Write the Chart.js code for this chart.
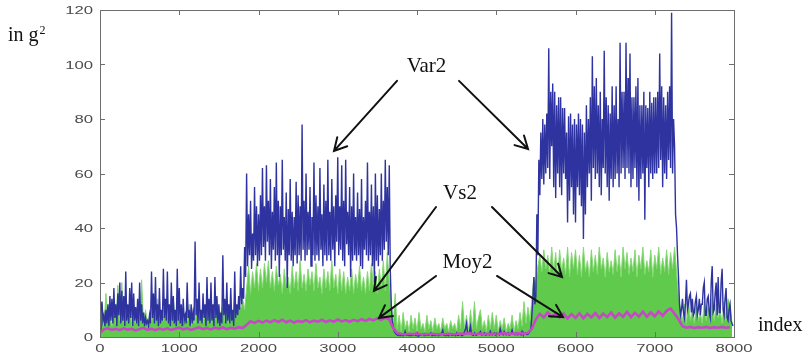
<!DOCTYPE html>
<html><head><meta charset="utf-8">
<script src="https://cdn.jsdelivr.net/npm/chart.js@4/dist/chart.umd.min.js"></script>
<style>html,body{margin:0;padding:0;background:#fff;}canvas{display:block;}</style>
</head><body>
<canvas id="c" width="808" height="359"></canvas>
<script>
// ---- data ----
const STEP_VAR = 12.5;  // sample spacing (index units) of Var2
const STEP_VS = 25;     // sample spacing of Vs2
const STEP_MOY = 50;    // sample spacing of Moy2

const var2 = [
  // 0 - 487.5
  2,10,13,6,8,4,10,5,12,4, 15,6,14,5,18,7,12,4,16,8, 20,5,17,6,15,4,24,6,12,5, 18,7,20,4,16,6,11,5,14,4,
  // 500 - 987.5
  20,6,12,5,9,4,7,5,6,4, 8,5,24,7,16,5,22,6,12,4, 18,5,10,6,25,7,14,6,24,5, 12,4,20,6,15,5,10,4,25,6,
  // 1000 - 1487.5
  18,5,12,4,14,6,8,5,20,7, 10,4,12,5,9,6,35,8,14,5, 20,6,10,5,16,7,12,4,22,6, 14,5,20,6,12,4,22,7,15,5,
  // 1500 - 1987.5
  12,4,9,5,30,8,14,5,20,6, 12,5,18,6,10,4,24,7,12,8, 15,10,26,12,18,14,33,22,60,26, 45,30,50,25,38,28,55,30,48,26,
  // 2000 - 2487.5
  45,28,52,30,62,33,48,28,63,35, 50,30,58,25,46,32,55,28,64,30, 50,22,48,30,65,32,44,28,53,18, 47,30,58,28,46,26,44,30,57,27,
  // 2500 - 2987.5
  52,30,48,28,78,32,50,28,60,30, 46,32,55,26,44,30,64,28,52,30, 48,28,62,32,45,26,56,30,50,28, 65,30,46,28,58,32,48,26,52,35,
  // 3000 - 3487.5
  66,30,48,32,63,28,50,26,65,34, 46,30,55,22,48,28,60,30,44,28, 53,30,47,26,58,25,44,32,50,30, 64,28,46,30,56,26,48,20,60,28,
  // 3500 - 3987.5
  52,26,47,30,60,28,50,32,65,35, 55,30,63,25,12,6,4,2,1.5,1, 0.8,0.6,1.2,0.5,0.8,0.6,0.5,0.7,2,0.6, 0.6,1,0.5,0.7,0.5,0.8,0.6,1,0.8,0.5,
  // 4000 - 4487.5
  1.5,0.6,0.5,0.7,0.7,1,1.2,0.5,0.5,0.8, 0.8,0.6,0.6,1,1.5,0.5,0.5,0.7,0.7,0.5, 1,0.6,0.5,0.8,0.8,1.5,2.5,0.7,0.6,0.5, 0.8,0.6,0.5,1,1.2,0.6,0.6,0.8,0.8,0.5,
  // 4500 - 4987.5
  1.5,0.6,0.6,1,1,0.5,0.5,1.2,2,3, 5,1.5,1.5,2,4,1,0.8,0.6,1.5,0.8, 0.6,1,1,1.5,2,0.8,0.8,1.2,1.5,0.7, 0.7,1,1.2,0.8,2,1,0.8,1.2,1.5,0.7,
  // 5000 - 5487.5
  0.7,1,1.2,0.8,3,1.5,1,0.8,2,1.2, 0.8,1,1.5,0.7,0.9,1.2,2.5,1,1,0.8, 1.5,0.9,0.8,1.2,1.2,0.8,2,1,0.9,1.3, 1.5,0.9,1,1.4,2,3,8,14,22,12,
  // 5500 - 5987.5
  15,45,30,65,52,75,58,80,56,78, 60,82,62,106,58,90,70,93,55,90, 51,85,60,88,55,88,52,84,60,84, 58,75,42,81,50,82,55,78,45,80,
  // 6000 - 6487.5
  42,78,55,82,52,80,48,78,36,75, 45,85,55,80,60,88,50,103,62,92, 58,95,60,85,55,90,52,80,62,105, 60,88,55,85,50,82,58,92,55,85,
  // 6500 - 6987.5
  58,92,60,80,55,108,60,90,62,90, 58,108,62,95,60,104,55,88,58,88, 62,92,55,95,50,85,58,85,60,90, 43,85,62,84,55,90,60,86,58,88,
  // 7000 - 7487.5
  60,88,60,90,62,104,65,92,55,88, 60,85,58,90,65,92,62,119,60,80, 70,45,40,30,22,12,8,10,14,9, 7,12,21,10,12,15,16,9,14,8,
  // 7500 - 7987.5
  9,13,15,8,10,14,8,12,12,18, 20,8,8,14,15,9,7,20,26,9, 10,16,20,8,22,9,9,20,25,10, 8,14,18,7,6,10,12,6,5,4
];

const vs2 = [
  1,12,4,16,5,8,4,10,5,19, 6,20,5,10,6,12,4,8,5,9, 6,21,5,10,4,8,5,12,6,14, 5,9,6,12,5,10,6,14,5,11,
  6,10,5,8,6,12,4,8,5,14, 6,10,5,9,6,12,5,10,6,14, 5,9,12,6,14,5,10,6,15,7, 12,10,14,10,18,26,16,24,18,27,
  17,25,18,27,20,28,18,24,17,26, 19,23,16,25,18,22,16,26,18,24, 17,28,18,23,17,25,19,24,17,27, 18,22,16,25,18,24,17,28,18,23,
  16,25,17,24,16,22,17,25,16,23, 18,26,17,22,16,24,17,27,18,24, 16,25,18,28,17,31,20,12,5,16, 3,8,2,9,3,6,2,8,3,7,
  2,9,3,5,2,8,3,6,2,7, 3,5,2,7,3,5,2,6,3,5, 2,8,3,13,3,8,2,10,3,13, 3,7,10,3,6,2,8,3,9,3,
  8,2,6,3,7,2,5,3,8,2, 6,3,9,4,13,5,11,6,14,22, 20,26,30,24,32,25,30,23,33,24, 31,22,32,24,29,23,33,22,31,25,
  32,23,30,22,33,24,28,22,32,24, 30,23,33,25,29,22,31,24,28,23, 32,24,30,22,33,25,31,23,29,24, 32,22,30,25,33,23,28,24,32,22,
  30,25,33,23,29,24,32,23,31,25, 33,24,15,10,6,12,5,14,6,10, 5,12,6,9,5,13,6,11,5,14, 6,12,7,10,5,13,6,14,12,5
];

const moy2 = [
  1.5,2.8,3.2,2.6,3,2.5,3.2,2.7,3,2.4, 2.9,3.3,2.6,3,2.5,3.1,2.7,3.2,2.6,3, 3.4,2.8,3.2,2.6,3.1,3.5,2.9,3.3,2.8,3.4, 3,3.5,2.9,3.4,3.1,3.6,3.3,
  4.5,5.8,5.2,5.9,5.3,6,5.4,6.2,5.5,6.3, 5.4,6,5.3,5.9,5.5,6.2,5.4,6,5.6,6.3, 5.5,6.1,5.6,6.4,5.7,6.2,5.6,6.3,5.8,6.5, 5.9,6.6,6.1,6.9,6.3,7.1,6.4,3.2,1.4,
  1.1,0.9,1.2,1,1.3,0.9,1.1,1,1.2,0.9, 1.1,1,1.2,1,1.1,1.3,1.1,1.4,1.2,1.1, 1.3,1,1.2,1.1,1.3,1.2,1.4,1.1,1.3,1.2, 1.4,1.2,1.5,
  3,6.5,8.5,7.2,9,7.4,8.8,7.1,8.6,6.8, 8.4,7,8.7,6.9,8.5,7.2,8.8,7,8.6,7.3, 9,7.1,8.7,7.4,9.2,7.3,8.9,7.5,9.3,7.4, 9,7.6,9.4,7.8,9.6,10.5,8.5,6.5,4,3.4,
  3.7,3.3,3.6,3.4,3.7,3.3,3.6,3.4,3.7,3.4, 3.6
];

const xTickLabels = [0,1000,2000,3000,4000,5000,6000,7000,8000];
const yTickLabels = [0,20,40,60,80,100,120];

// annotation texts and arrows, in data units (index, g^2)
const noteTexts = [
  {text:'Var2', x:4120, y:99.3},
  {text:'Vs2',  x:4543, y:52.7},
  {text:'Moy2', x:4637, y:27.3}
];
const noteArrows = [
  [3748,94.0, 2953,68.3],
  [4530,94.0, 5401,69.0],
  [4240,47.7, 3457,16.9],
  [4946,47.7, 5830,22.0],
  [4240,22.4, 3521,7.0],
  [5009,22.4, 5842,7.3]
];

const toPts = (arr, step) => arr.map((v,i)=>({x:i*step, y:v}));

const framePlugin = {
  id:'frame',
  afterDatasetsDraw(chart){
    const {ctx, chartArea:a, scales:{x,y}} = chart;
    ctx.save();
    ctx.strokeStyle = '#6e6e6e';
    ctx.lineWidth = 1;
    ctx.strokeRect(Math.round(a.left)+0.5, Math.round(a.top)+0.5, Math.round(a.right-a.left), Math.round(a.bottom-a.top));
    const TL = 5;
    ctx.beginPath();
    x.ticks.forEach(t=>{
      const px = Math.round(x.getPixelForValue(t.value))+0.5;
      ctx.moveTo(px, a.bottom); ctx.lineTo(px, a.bottom-TL);
      ctx.moveTo(px, a.top); ctx.lineTo(px, a.top+TL);
    });
    y.ticks.forEach(t=>{
      const py = Math.round(y.getPixelForValue(t.value))+0.5;
      ctx.moveTo(a.left, py); ctx.lineTo(a.left+TL, py);
      ctx.moveTo(a.right, py); ctx.lineTo(a.right-TL, py);
    });
    ctx.stroke();
    ctx.fillStyle = '#4a4a4a';
    ctx.font = '11.5px "Liberation Sans", Arial, sans-serif';
    ctx.textBaseline = 'middle';
    const SX = 1.45;
    x.ticks.forEach(t=>{
      const px = x.getPixelForValue(t.value);
      ctx.save(); ctx.translate(px, a.bottom+12); ctx.scale(SX,1);
      ctx.textAlign='center'; ctx.fillText(String(t.value),0,0); ctx.restore();
    });
    y.ticks.forEach(t=>{
      const py = y.getPixelForValue(t.value);
      ctx.save(); ctx.translate(a.left-7, py+1); ctx.scale(SX,1);
      ctx.textAlign='right'; ctx.fillText(String(t.value),0,0); ctx.restore();
    });
    ctx.strokeStyle = '#111';
    ctx.lineWidth = 2;
    ctx.lineCap = 'round';
    noteArrows.forEach(([x0,y0,x1,y1])=>{
      const sx=x.getPixelForValue(x0), sy=y.getPixelForValue(y0);
      const ex=x.getPixelForValue(x1), ey=y.getPixelForValue(y1);
      const ang = Math.atan2(ey-sy, ex-sx);
      const L = 14, W = 0.5;
      ctx.beginPath();
      ctx.moveTo(sx,sy); ctx.lineTo(ex,ey);
      ctx.moveTo(ex - L*Math.cos(ang-W), ey - L*Math.sin(ang-W));
      ctx.lineTo(ex,ey);
      ctx.lineTo(ex - L*Math.cos(ang+W), ey - L*Math.sin(ang+W));
      ctx.stroke();
    });
    ctx.fillStyle = '#111';
    ctx.font = '21px "Liberation Serif", "Times New Roman", serif';
    ctx.textAlign = 'center';
    ctx.textBaseline = 'middle';
    noteTexts.forEach(n=>{
      ctx.fillText(n.text, x.getPixelForValue(n.x), y.getPixelForValue(n.y));
    });
    ctx.textAlign = 'left';
    ctx.textBaseline = 'alphabetic';
    ctx.font = '20px "Liberation Serif", "Times New Roman", serif';
    ctx.fillText('in g', 8, 41);
    const w = ctx.measureText('in g').width;
    ctx.font = '12px "Liberation Serif", "Times New Roman", serif';
    ctx.fillText('2', 8 + w + 1, 34);
    ctx.font = '20px "Liberation Serif", "Times New Roman", serif';
    ctx.fillText('index', a.right + 24, a.bottom - 6);
    ctx.restore();
  }
};

new Chart(document.getElementById('c'), {
  type:'line',
  data:{
    datasets:[
      {label:'Moy2', data:toPts(moy2, STEP_MOY), borderColor:'#c847c8', borderWidth:2.6, order:0},
      {label:'Var2', data:toPts(var2, STEP_VAR), borderColor:'#2e33a0', borderWidth:1.4, order:1},
      {label:'Vs2', data:toPts(vs2, STEP_VS), borderColor:'#86d874', backgroundColor:'#5fca4c', borderWidth:1, fill:'origin', order:2}
    ]
  },
  options:{
    responsive:false,
    animation:false,
    events:[],
    layout:{padding:{top:10, right:74, left:0, bottom:0}},
    elements:{point:{radius:0}, line:{tension:0}},
    plugins:{legend:{display:false}, tooltip:{enabled:false}},
    scales:{
      x:{type:'linear', min:0, max:8000,
         afterBuildTicks:s=>{ s.ticks = xTickLabels.map(v=>({value:v})); },
         afterFit:s=>{ s.height = 22; },
         ticks:{display:false}, grid:{display:false}, border:{display:false}},
      y:{type:'linear', min:0, max:120,
         afterBuildTicks:s=>{ s.ticks = yTickLabels.map(v=>({value:v})); },
         afterFit:s=>{ s.width = 100; },
         ticks:{display:false}, grid:{display:false}, border:{display:false}}
    }
  },
  plugins:[framePlugin]
});
</script>
</body></html>
